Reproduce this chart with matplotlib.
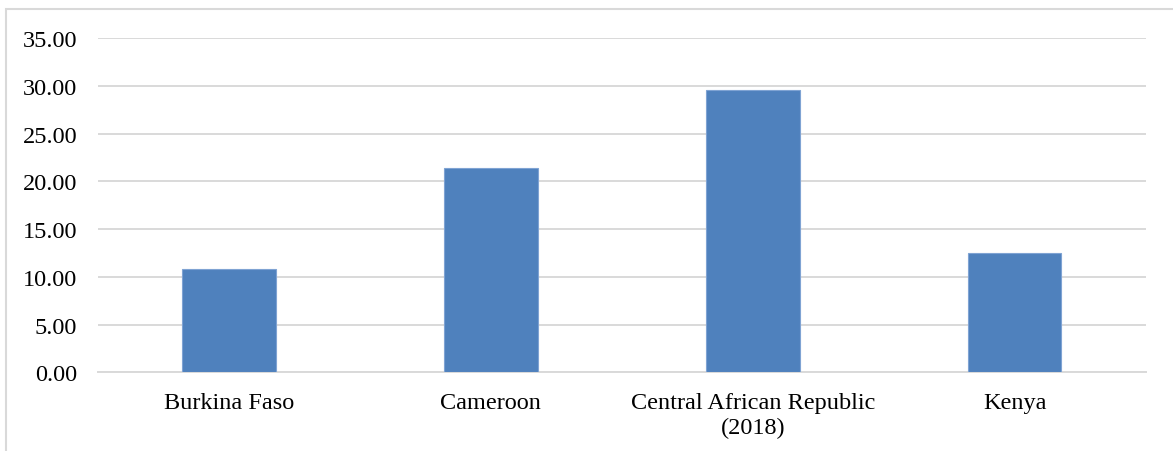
import matplotlib.pyplot as plt
from matplotlib.patches import Rectangle

countries = ['Burkina Faso', 'Cameroon', 'Central African Republic\n(2018)', 'Kenya']
values = [10.85, 21.43, 29.55, 12.53]
yticks = [0, 5, 10, 15, 20, 25, 30, 35]

plt.rcParams['font.family'] = ['Liberation Serif', 'DejaVu Serif']

fig = plt.figure(figsize=(11.73, 4.52), dpi=100)
ax = fig.add_axes([98 / 1173, 78.7 / 452, (1145.7 - 98) / 1173, (373.3 - 39) / 452])

x = range(len(countries))
ax.bar(x, values, width=0.357, color='#4f81bd', edgecolor='#7fa3d3', linewidth=0.8, zorder=3)

ax.set_xlim(-0.5, len(countries) - 0.5)
ax.set_ylim(0, 35)
ax.set_yticks(yticks)
ax.set_yticklabels([f'{v:.2f}' for v in yticks])
ax.set_xticks(list(x))
ax.set_xticklabels(countries, linespacing=1.25)
ax.tick_params(axis='both', length=0, labelsize=17.5, colors='black')
ax.tick_params(axis='y', pad=15)
ax.tick_params(axis='x', pad=14)

ax.yaxis.grid(True, color='#d9d9d9', linewidth=1.4, zorder=0)
for side in ['top', 'right', 'left']:
    ax.spines[side].set_visible(False)
ax.spines['bottom'].set_color('#d9d9d9')
ax.spines['bottom'].set_linewidth(1.4)

# outer chart frame (only top and left edges fall inside the canvas)
fig.patches.append(Rectangle((6 / 1173, -0.2), 2, 1.2 - 10 / 452, fill=False,
                             edgecolor='#d9d9d9', linewidth=1.5, transform=fig.transFigure))

fig.savefig('out.png', dpi=100)
